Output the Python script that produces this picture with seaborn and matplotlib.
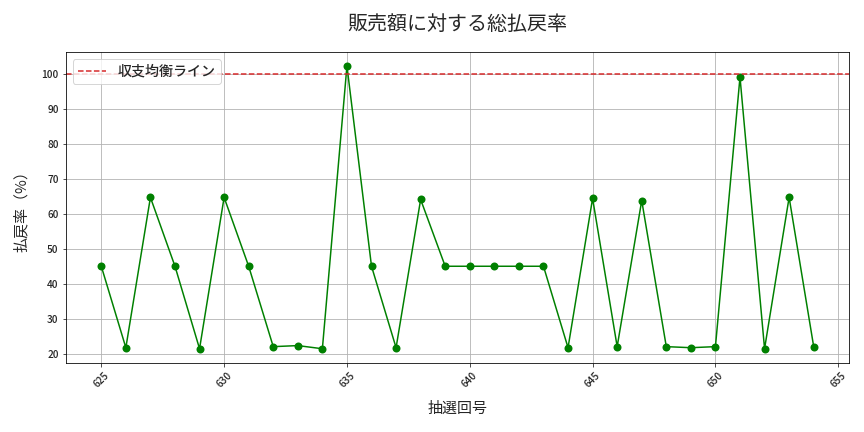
import numpy as np
import pandas as pd
import seaborn as sns
import matplotlib.pyplot as plt

# data
draws = list(range(625, 655))
payout_rate = [45.0, 21.7, 64.7, 45.0, 21.4, 64.7, 45.0, 22.0, 22.3, 21.4,
               102.3, 45.0, 21.7, 64.1, 45.0, 45.0, 45.0, 45.0, 45.0, 21.7,
               64.4, 22.0, 63.8, 22.0, 21.7, 22.0, 99.1, 21.4, 64.7, 22.0]
breakeven = 100

df = pd.DataFrame({'draw': draws, 'rate': payout_rate})

sns.set_style('white')
plt.rcParams['font.family'] = ['Noto Sans CJK JP', 'DejaVu Sans']
plt.rcParams['font.weight'] = 'medium'

fig, ax = plt.subplots(figsize=(12, 6), dpi=72)

sns.lineplot(data=df, x='draw', y='rate', marker='o', color='green',
             markersize=8, markeredgewidth=0, linewidth=1.5, ax=ax)
ax.axhline(y=breakeven, color='#d62728', linestyle='--', linewidth=1.5,
           label='収支均衡ライン')

ax.set_title('販売額に対する総払戻率', fontsize=20, pad=22)
ax.set_xlabel('抽選回号', fontsize=15, labelpad=13)
ax.set_ylabel('払戻率（%）', fontsize=15, labelpad=12)
ax.tick_params(axis='x', labelrotation=45, labelsize=10)
ax.tick_params(axis='y', labelsize=10)
ax.tick_params(direction='out', length=3.5, width=0.8, left=True, bottom=True)
ax.grid(True, color='#b0b0b0', linewidth=0.8)
for s in ax.spines.values():
    s.set_color('black')
    s.set_linewidth(0.8)
ax.legend(loc='upper left', fontsize=14)

plt.subplots_adjust(left=0.076, right=0.983, top=0.88, bottom=0.16)
plt.savefig('out.png', dpi=72)
